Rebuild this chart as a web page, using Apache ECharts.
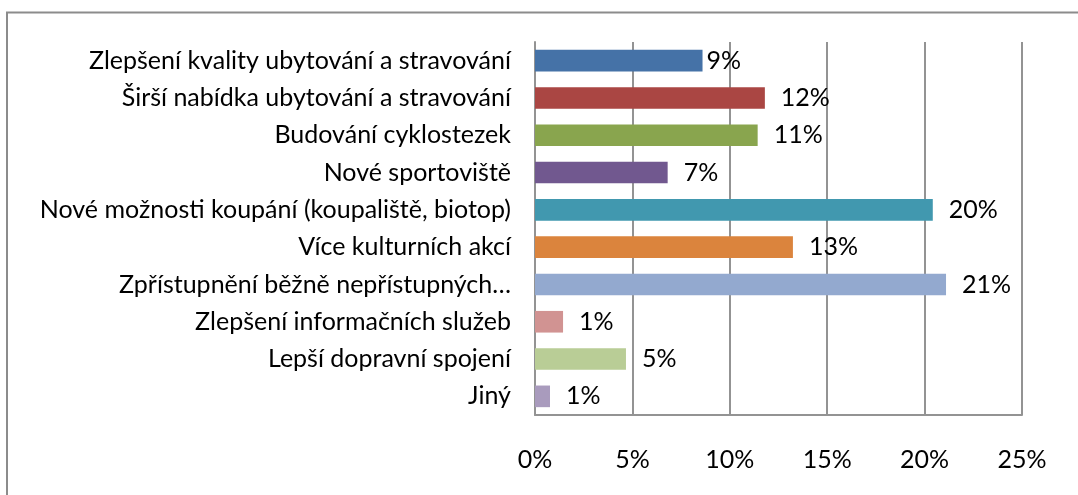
<!DOCTYPE html>
<html>
<head>
<meta charset="utf-8">
<script src="https://cdn.jsdelivr.net/npm/echarts@6/dist/echarts.min.js"></script>
<style>
  html, body { margin: 0; padding: 0; background: #ffffff; }
  #chart { width: 1078px; height: 495px; }
</style>
</head>
<body>
<div id="chart"></div>
<script>
// Survey answers: what would improve the area (share of responses, %)
const categories = [
  'Zlepšení kvality ubytování a stravování',
  'Širší nabídka ubytování a stravování',
  'Budování cyklostezek',
  'Nové sportoviště',
  'Nové možnosti koupání (koupaliště, biotop)',
  'Více kulturních akcí',
  'Zpřístupnění běžně nepřístupných…',
  'Zlepšení informačních služeb',
  'Lepší dopravní spojení',
  'Jiný'
];
const shares = [8.60, 11.80, 11.43, 6.81, 20.42, 13.24, 21.10, 1.44, 4.67, 0.77];
const barColors = [
  '#4572A7', '#AA4643', '#89A54E', '#71588F', '#4198AF',
  '#DB843D', '#93A9CF', '#D19392', '#B9CD96', '#A99BBD'
];
const axisMax = 25;
const axisStep = 5;

const FONT = 'Lato';
const FONT_SIZE = 25;
const GRAY = '#939393';

const barData = shares.map(function (v, i) {
  const item = { value: v, itemStyle: { color: barColors[i] } };
  // the first label sits close against its bar
  if (i === 0) item.label = { distance: 4 };
  return item;
});

const chart = echarts.init(document.getElementById('chart'), null, { renderer: 'canvas' });
chart.setOption({
  backgroundColor: '#ffffff',
  animation: false,
  graphic: [{
    type: 'rect',
    shape: { x: 7, y: 12.5, width: 1200, height: 700 },
    style: { fill: 'none', stroke: '#8c8c8c', lineWidth: 2 },
    silent: true
  }],
  grid: { left: 535, right: 56, top: 42, bottom: 80 },
  xAxis: {
    type: 'value',
    min: 0,
    max: axisMax,
    interval: axisStep,
    axisLine: { show: true, lineStyle: { color: GRAY, width: 2 } },
    axisTick: { show: false },
    splitLine: { show: true, lineStyle: { color: GRAY, width: 2 } },
    axisLabel: {
      formatter: '{value}%',
      color: '#000000',
      fontFamily: FONT,
      fontSize: FONT_SIZE,
      margin: 32
    }
  },
  yAxis: {
    type: 'category',
    data: categories,
    inverse: true,
    axisLine: { show: true, lineStyle: { color: GRAY, width: 2 } },
    axisTick: { show: false },
    splitLine: { show: false },
    axisLabel: {
      color: '#000000',
      fontFamily: FONT,
      fontSize: FONT_SIZE,
      margin: 24
    }
  },
  series: [{
    type: 'bar',
    data: barData,
    barCategoryGap: '42%',
    label: {
      show: true,
      position: 'right',
      distance: 16,
      color: '#000000',
      fontFamily: FONT,
      fontSize: FONT_SIZE,
      formatter: function (p) { return Math.round(p.value) + '%'; }
    }
  }]
});
</script>
</body>
</html>
